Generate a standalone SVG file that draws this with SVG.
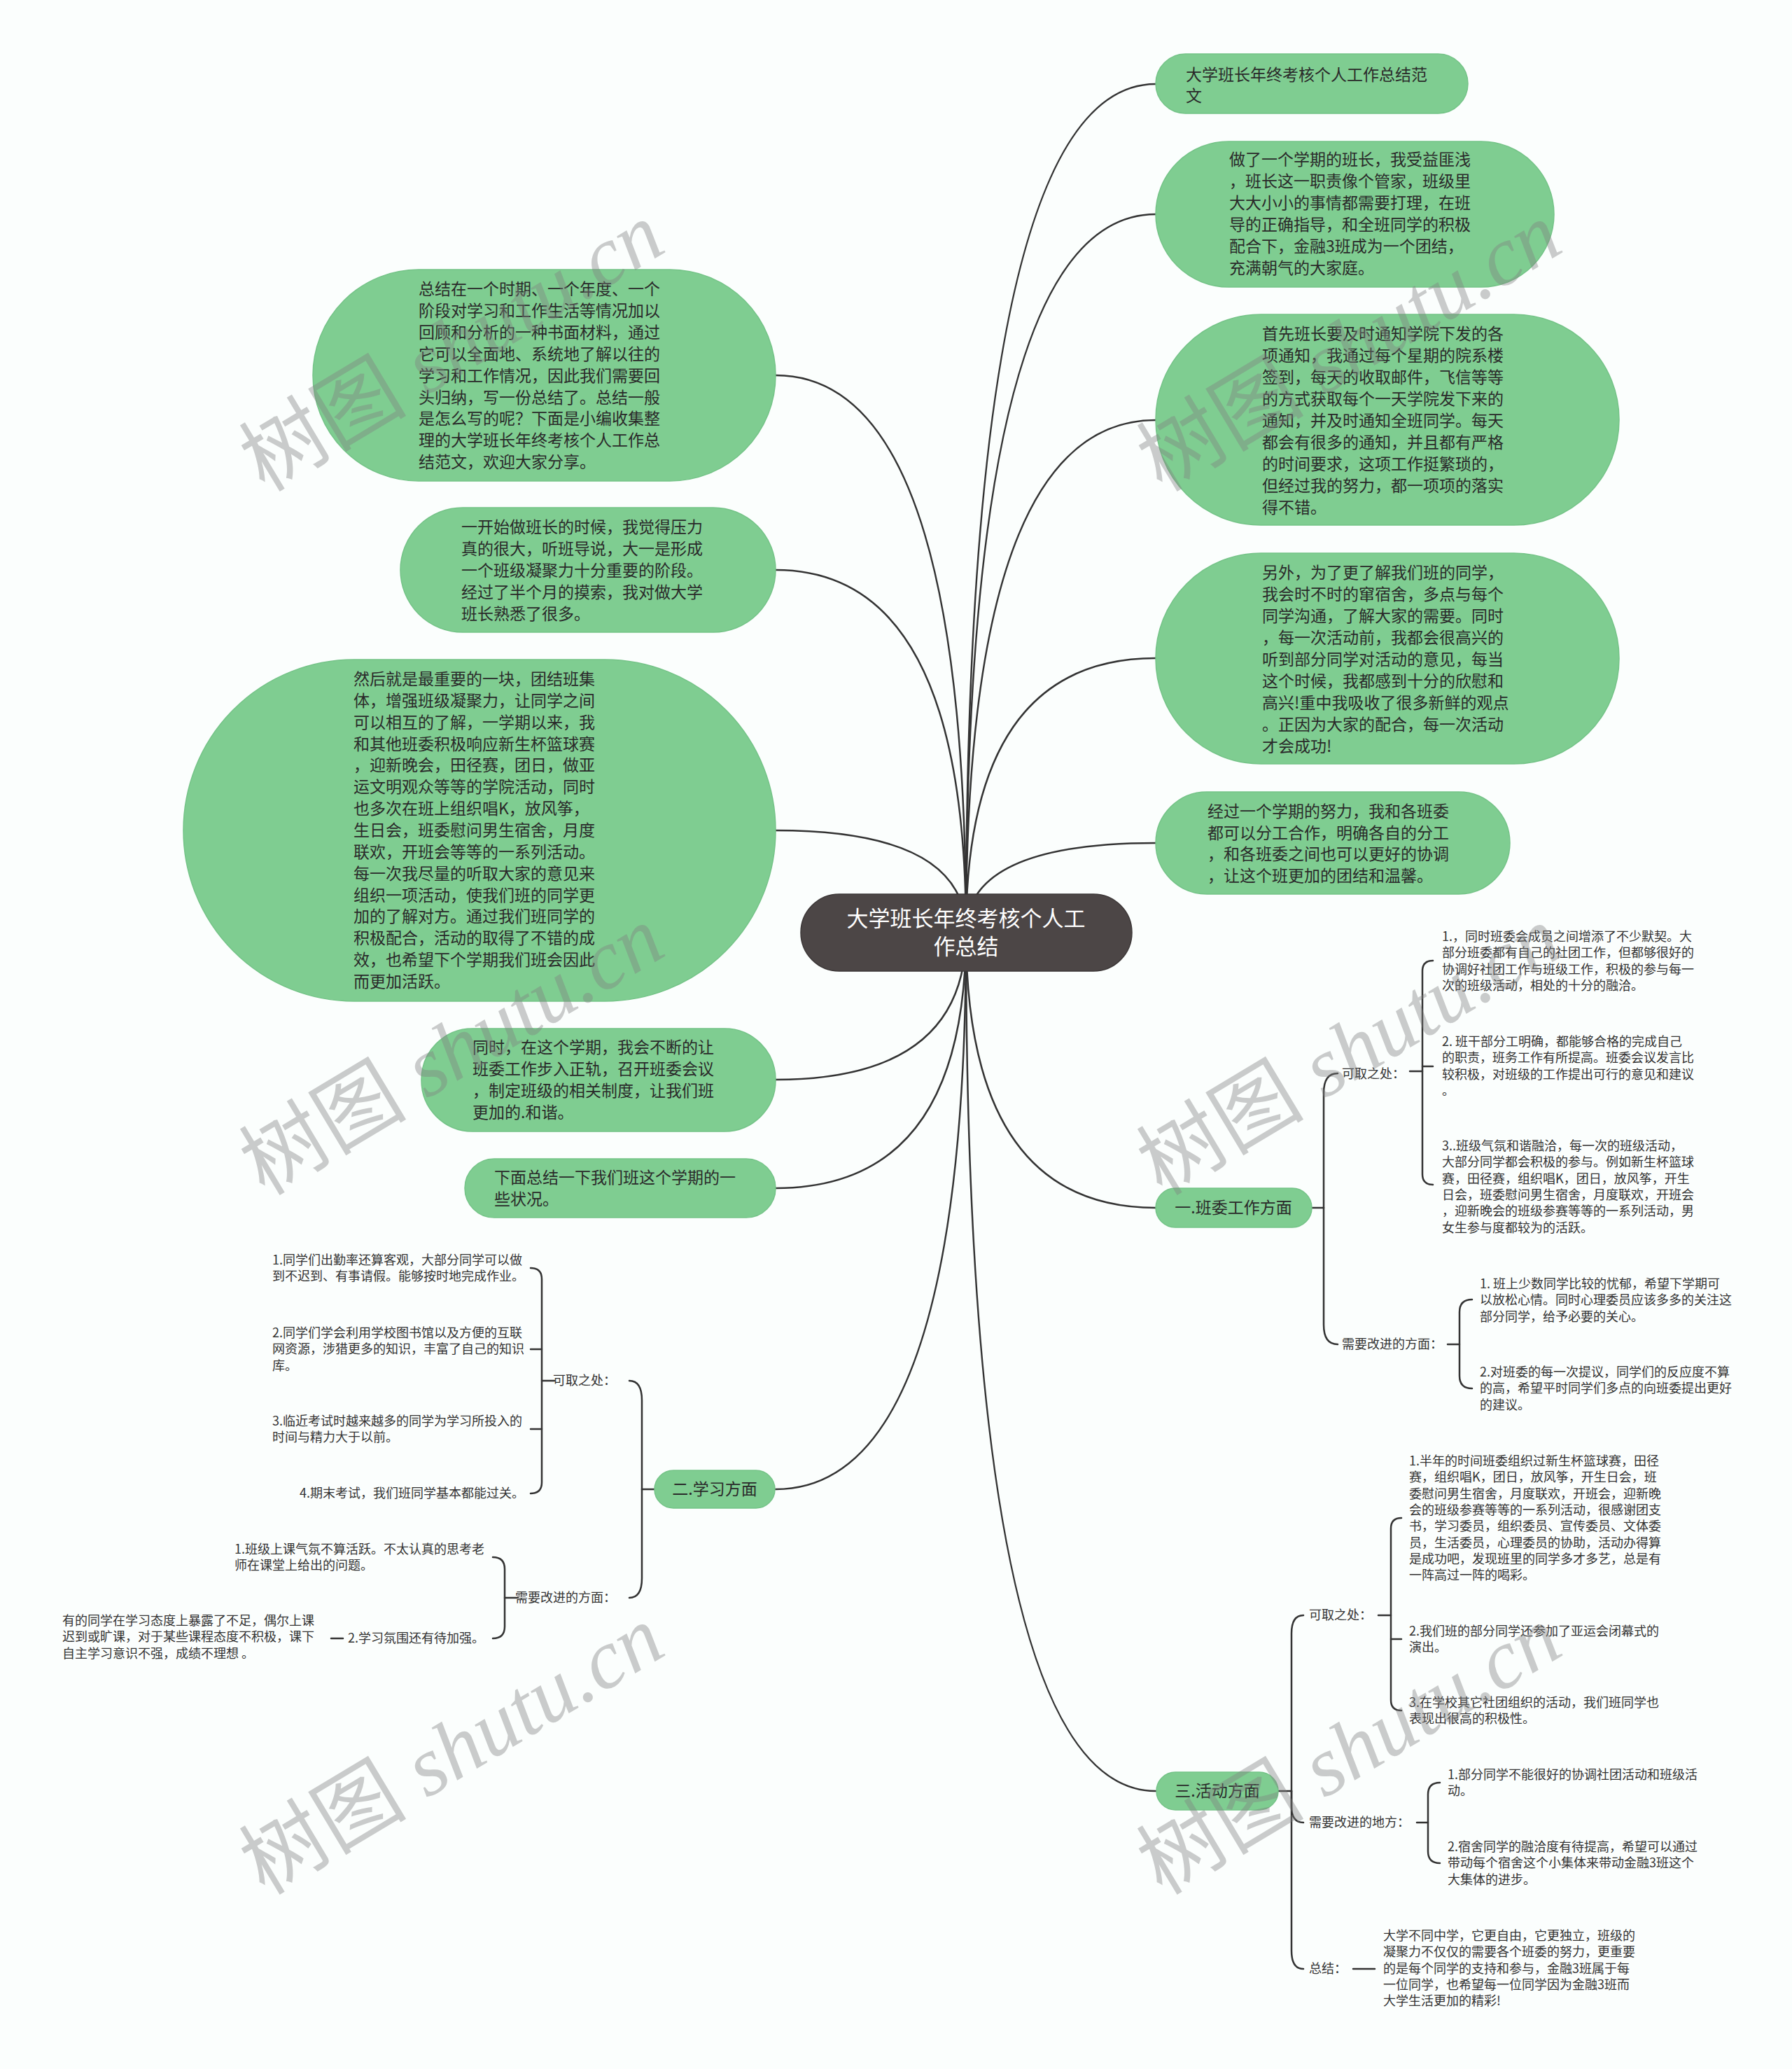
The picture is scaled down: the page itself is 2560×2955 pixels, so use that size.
<svg xmlns="http://www.w3.org/2000/svg" width="2560" height="2955" viewBox="0 0 2560 2955">
<defs>
<style>
.bg{fill:#fbfefd}
.gn{fill:#7fcd91;stroke:#74c387;stroke-width:1.5}
.cn{fill:#4c4646;stroke:#3d3838;stroke-width:1.5}
.nt{font-family:"Noto Sans CJK SC","Noto Sans",sans-serif;font-size:23px;fill:#2a2a2a}
.bt{font-family:"Noto Sans CJK SC","Noto Sans",sans-serif;font-size:23px;fill:#2a2a2a;text-anchor:middle}
.ct{font-family:"Noto Sans CJK SC","Noto Sans",sans-serif;font-size:31px;fill:#ffffff;text-anchor:middle}
.st{font-family:"Noto Sans CJK SC","Noto Sans",sans-serif;font-size:18px;fill:#333333}
.ln{fill:none;stroke:#333333;stroke-width:2.5;stroke-linecap:round}
.wm{font-size:120px;fill:#808080;fill-opacity:0.4}
</style>
</defs>
<rect class="bg" x="0" y="0" width="2560" height="2955"/>

<g id="connectors">
<path class="ln" d="M1380 1331 Q1380 120 1651 120"/>
<path class="ln" d="M1380 1331 Q1380 306 1651 306"/>
<path class="ln" d="M1380 1331 Q1380 600 1651 600"/>
<path class="ln" d="M1380 1331 Q1380 940 1651 940"/>
<path class="ln" d="M1380 1331 Q1380 1204 1651 1204"/>
<path class="ln" d="M1380 1331 Q1380 536 1108 536"/>
<path class="ln" d="M1380 1331 Q1380 814 1108 814"/>
<path class="ln" d="M1380 1331 Q1380 1186 1108 1186"/>
<path class="ln" d="M1380 1331 Q1380 1542 1108 1542"/>
<path class="ln" d="M1380 1331 Q1380 1697 1108 1697"/>
<path class="ln" d="M1380 1331 Q1380 1725 1651 1725"/>
<path class="ln" d="M1380 1331 Q1380 2127 1108 2127"/>
<path class="ln" d="M1380 1331 Q1380 2558 1651 2558"/>
<!-- branch 1 -->
<path class="ln" d="M1874 1725 H1891"/>
<path class="ln" d="M1891 1725 V1561 Q1891 1533 1911 1533"/>
<path class="ln" d="M1891 1725 V1892 Q1891 1920 1911 1920"/>
<path class="ln" d="M2014 1530 H2032"/>
<path class="ln" d="M2047 1372 Q2032 1372 2032 1387 V1677 Q2032 1692 2047 1692"/>
<path class="ln" d="M2032 1523 H2047"/>
<path class="ln" d="M2068 1920 H2085"/>
<path class="ln" d="M2103 1856 Q2085 1856 2085 1874 V1965 Q2085 1983 2103 1983"/>
<!-- branch 2 -->
<path class="ln" d="M935 2127 H917"/>
<path class="ln" d="M917 2127 V2000 Q917 1972 899 1972"/>
<path class="ln" d="M917 2127 V2254 Q917 2282 899 2282"/>
<path class="ln" d="M792 1972 H774"/>
<path class="ln" d="M758 1811 Q774 1811 774 1827 V2117 Q774 2133 758 2133"/>
<path class="ln" d="M774 1927 H758"/>
<path class="ln" d="M774 2041 H758"/>
<path class="ln" d="M740 2282 H721"/>
<path class="ln" d="M704 2224 Q721 2224 721 2241 V2323 Q721 2340 704 2340"/>
<path class="ln" d="M490 2340 H473"/>
<!-- branch 3 -->
<path class="ln" d="M1826 2558 H1845"/>
<path class="ln" d="M1845 2558 V2333 Q1845 2307 1862 2307"/>
<path class="ln" d="M1845 2558 V2580 Q1845 2603 1862 2603"/>
<path class="ln" d="M1845 2558 V2786 Q1845 2812 1862 2812"/>
<path class="ln" d="M1969 2307 H1987"/>
<path class="ln" d="M2002 2168 Q1987 2168 1987 2183 V2428 Q1987 2443 2002 2443"/>
<path class="ln" d="M1987 2341 H2002"/>
<path class="ln" d="M2024 2603 H2040"/>
<path class="ln" d="M2057 2546 Q2040 2546 2040 2563 V2644 Q2040 2661 2057 2661"/>
<path class="ln" d="M1933 2812 H1964"/>
</g>

<g id="center">
<rect class="cn" x="1144" y="1277" width="473" height="110" rx="55"/>
<text class="ct"><tspan x="1380" y="1323">大学班长年终考核个人工</tspan><tspan x="1380" y="1363">作总结</tspan></text>
</g>

<g id="r1">
<rect class="gn" x="1651" y="77" width="446" height="85" rx="42.5"/>
<text class="nt"><tspan x="1694" y="115">大学班长年终考核个人工作总结范</tspan><tspan x="1694" y="145">文</tspan></text>
</g>
<g id="r2">
<rect class="gn" x="1651" y="202" width="569" height="208" rx="104"/>
<text class="nt" x="1756" y="236"><tspan x="1756" dy="0">做了一个学期的班长，我受益匪浅</tspan><tspan x="1756" dy="31">，班长这一职责像个管家，班级里</tspan><tspan x="1756" dy="31">大大小小的事情都需要打理，在班</tspan><tspan x="1756" dy="31">导的正确指导，和全班同学的积极</tspan><tspan x="1756" dy="31">配合下，金融3班成为一个团结，</tspan><tspan x="1756" dy="31">充满朝气的大家庭。</tspan></text>
</g>
<g id="r3">
<rect class="gn" x="1651" y="449" width="662" height="301" rx="150"/>
<text class="nt" x="1803" y="485"><tspan x="1803" dy="0">首先班长要及时通知学院下发的各</tspan><tspan x="1803" dy="31">项通知，我通过每个星期的院系楼</tspan><tspan x="1803" dy="31">签到，每天的收取邮件，飞信等等</tspan><tspan x="1803" dy="31">的方式获取每个一天学院发下来的</tspan><tspan x="1803" dy="31">通知，并及时通知全班同学。每天</tspan><tspan x="1803" dy="31">都会有很多的通知，并且都有严格</tspan><tspan x="1803" dy="31">的时间要求，这项工作挺繁琐的，</tspan><tspan x="1803" dy="31">但经过我的努力，都一项项的落实</tspan><tspan x="1803" dy="31">得不错。</tspan></text>
</g>
<g id="r4">
<rect class="gn" x="1651" y="790" width="662" height="301" rx="150"/>
<text class="nt" x="1803" y="826"><tspan x="1803" dy="0">另外，为了更了解我们班的同学，</tspan><tspan x="1803" dy="31">我会时不时的窜宿舍，多点与每个</tspan><tspan x="1803" dy="31">同学沟通，了解大家的需要。同时</tspan><tspan x="1803" dy="31">，每一次活动前，我都会很高兴的</tspan><tspan x="1803" dy="31">听到部分同学对活动的意见，每当</tspan><tspan x="1803" dy="31">这个时候，我都感到十分的欣慰和</tspan><tspan x="1803" dy="31">高兴!重中我吸收了很多新鲜的观点</tspan><tspan x="1803" dy="31">。正因为大家的配合，每一次活动</tspan><tspan x="1803" dy="31">才会成功!</tspan></text>
</g>
<g id="r5">
<rect class="gn" x="1651" y="1131" width="506" height="146" rx="73"/>
<text class="nt" x="1725" y="1167"><tspan x="1725" dy="0">经过一个学期的努力，我和各班委</tspan><tspan x="1725" dy="30.7">都可以分工合作，明确各自的分工</tspan><tspan x="1725" dy="30.7">，和各班委之间也可以更好的协调</tspan><tspan x="1725" dy="30.7">，让这个班更加的团结和温馨。</tspan></text>
</g>

<g id="l1">
<rect class="gn" x="447" y="385" width="661" height="302" rx="151"/>
<text class="nt" x="598" y="421"><tspan x="598" dy="0">总结在一个时期、一个年度、一个</tspan><tspan x="598" dy="30.9">阶段对学习和工作生活等情况加以</tspan><tspan x="598" dy="30.9">回顾和分析的一种书面材料，通过</tspan><tspan x="598" dy="30.9">它可以全面地、系统地了解以往的</tspan><tspan x="598" dy="30.9">学习和工作情况，因此我们需要回</tspan><tspan x="598" dy="30.9">头归纳，写一份总结了。总结一般</tspan><tspan x="598" dy="30.9">是怎么写的呢？下面是小编收集整</tspan><tspan x="598" dy="30.9">理的大学班长年终考核个人工作总</tspan><tspan x="598" dy="30.9">结范文，欢迎大家分享。</tspan></text>
</g>
<g id="l2">
<rect class="gn" x="572" y="725" width="536" height="178" rx="89"/>
<text class="nt" x="659" y="761"><tspan x="659" dy="0">一开始做班长的时候，我觉得压力</tspan><tspan x="659" dy="31">真的很大，听班导说，大一是形成</tspan><tspan x="659" dy="31">一个班级凝聚力十分重要的阶段。</tspan><tspan x="659" dy="31">经过了半个月的摸索，我对做大学</tspan><tspan x="659" dy="31">班长熟悉了很多。</tspan></text>
</g>
<g id="l3">
<rect class="gn" x="262" y="942" width="846" height="488" rx="244"/>
<text class="nt" x="505" y="978"><tspan x="505" dy="0">然后就是最重要的一块，团结班集</tspan><tspan x="505" dy="30.86">体，增强班级凝聚力，让同学之间</tspan><tspan x="505" dy="30.86">可以相互的了解，一学期以来，我</tspan><tspan x="505" dy="30.86">和其他班委积极响应新生杯篮球赛</tspan><tspan x="505" dy="30.86">，迎新晚会，田径赛，团日，做亚</tspan><tspan x="505" dy="30.86">运文明观众等等的学院活动，同时</tspan><tspan x="505" dy="30.86">也多次在班上组织唱K，放风筝，</tspan><tspan x="505" dy="30.86">生日会，班委慰问男生宿舍，月度</tspan><tspan x="505" dy="30.86">联欢，开班会等等的一系列活动。</tspan><tspan x="505" dy="30.86">每一次我尽量的听取大家的意见来</tspan><tspan x="505" dy="30.86">组织一项活动，使我们班的同学更</tspan><tspan x="505" dy="30.86">加的了解对方。通过我们班同学的</tspan><tspan x="505" dy="30.86">积极配合，活动的取得了不错的成</tspan><tspan x="505" dy="30.86">效，也希望下个学期我们班会因此</tspan><tspan x="505" dy="30.86">而更加活跃。</tspan></text>
</g>
<g id="l4">
<rect class="gn" x="602" y="1469" width="506" height="147" rx="73"/>
<text class="nt" x="675" y="1504"><tspan x="675" dy="0">同时，在这个学期，我会不断的让</tspan><tspan x="675" dy="31">班委工作步入正轨，召开班委会议</tspan><tspan x="675" dy="31">，制定班级的相关制度，让我们班</tspan><tspan x="675" dy="31">更加的.和谐。</tspan></text>
</g>
<g id="l5">
<rect class="gn" x="664" y="1655" width="444" height="84" rx="42"/>
<text class="nt" x="706" y="1690"><tspan x="706" dy="0">下面总结一下我们班这个学期的一</tspan><tspan x="706" dy="31">些状况。</tspan></text>
</g>

<g id="b1">
<rect class="gn" x="1651" y="1697" width="223" height="56" rx="28"/>
<text class="bt" x="1762" y="1733">一.班委工作方面</text>
</g>
<g id="b1-keep">
<text class="st" x="1917" y="1540">可取之处：</text>
</g>
<g id="b1-keep-1">
<text class="st" x="2060" y="1344"><tspan x="2060" dy="0">1.，同时班委会成员之间增添了不少默契。大</tspan><tspan x="2060" dy="23.3">部分班委都有自己的社团工作，但都够很好的</tspan><tspan x="2060" dy="23.3">协调好社团工作与班级工作，积极的参与每一</tspan><tspan x="2060" dy="23.3">次的班级活动，相处的十分的融洽。</tspan></text>
</g>
<g id="b1-keep-2">
<text class="st" x="2060" y="1494"><tspan x="2060" dy="0">2. 班干部分工明确，都能够合格的完成自己</tspan><tspan x="2060" dy="23.3">的职责，班务工作有所提高。班委会议发言比</tspan><tspan x="2060" dy="23.3">较积极，对班级的工作提出可行的意见和建议</tspan><tspan x="2060" dy="23.3">。</tspan></text>
</g>
<g id="b1-keep-3">
<text class="st" x="2060" y="1643"><tspan x="2060" dy="0">3..班级气氛和谐融洽，每一次的班级活动，</tspan><tspan x="2060" dy="23.3">大部分同学都会积极的参与。例如新生杯篮球</tspan><tspan x="2060" dy="23.3">赛，田径赛，组织唱K，团日，放风筝，开生</tspan><tspan x="2060" dy="23.3">日会，班委慰问男生宿舍，月度联欢，开班会</tspan><tspan x="2060" dy="23.3">，迎新晚会的班级参赛等等的一系列活动，男</tspan><tspan x="2060" dy="23.3">女生参与度都较为的活跃。</tspan></text>
</g>
<g id="b1-improve">
<text class="st" x="1917" y="1926">需要改进的方面：</text>
</g>
<g id="b1-improve-1">
<text class="st" x="2114" y="1840"><tspan x="2114" dy="0">1. 班上少数同学比较的忧郁，希望下学期可</tspan><tspan x="2114" dy="23.3">以放松心情。同时心理委员应该多多的关注这</tspan><tspan x="2114" dy="23.3">部分同学，给予必要的关心。</tspan></text>
</g>
<g id="b1-improve-2">
<text class="st" x="2114" y="1966"><tspan x="2114" dy="0">2.对班委的每一次提议，同学们的反应度不算</tspan><tspan x="2114" dy="23.3">的高，希望平时同学们多点的向班委提出更好</tspan><tspan x="2114" dy="23.3">的建议。</tspan></text>
</g>

<g id="b2">
<rect class="gn" x="935" y="2100" width="172" height="54" rx="27"/>
<text class="bt" x="1021" y="2135">二.学习方面</text>
</g>
<g id="b2-keep">
<text class="st" x="880" y="1978" text-anchor="end">可取之处：</text>
</g>
<g id="b2-keep-1">
<text class="st" x="389" y="1806"><tspan x="389" dy="0">1.同学们出勤率还算客观，大部分同学可以做</tspan><tspan x="389" dy="23.3">到不迟到、有事请假。能够按时地完成作业。</tspan></text>
</g>
<g id="b2-keep-2">
<text class="st" x="389" y="1910"><tspan x="389" dy="0">2.同学们学会利用学校图书馆以及方便的互联</tspan><tspan x="389" dy="23.3">网资源，涉猎更多的知识，丰富了自己的知识</tspan><tspan x="389" dy="23.3">库。</tspan></text>
</g>
<g id="b2-keep-3">
<text class="st" x="389" y="2036"><tspan x="389" dy="0">3.临近考试时越来越多的同学为学习所投入的</tspan><tspan x="389" dy="23.3">时间与精力大于以前。</tspan></text>
</g>
<g id="b2-keep-4">
<text class="st" x="428" y="2139">4.期末考试，我们班同学基本都能过关。</text>
</g>
<g id="b2-improve">
<text class="st" x="880" y="2288" text-anchor="end">需要改进的方面：</text>
</g>
<g id="b2-improve-1">
<text class="st" x="335" y="2219"><tspan x="335" dy="0">1.班级上课气氛不算活跃。不太认真的思考老</tspan><tspan x="335" dy="23.3">师在课堂上给出的问题。</tspan></text>
</g>
<g id="b2-improve-2">
<text class="st" x="497" y="2346">2.学习氛围还有待加强。</text>
</g>
<g id="b2-improve-2-1">
<text class="st" x="89" y="2321"><tspan x="89" dy="0">有的同学在学习态度上暴露了不足，偶尔上课</tspan><tspan x="89" dy="23.3">迟到或旷课，对于某些课程态度不积极，课下</tspan><tspan x="89" dy="23.3">自主学习意识不强，成绩不理想 。</tspan></text>
</g>

<g id="b3">
<rect class="gn" x="1652" y="2531" width="174" height="54" rx="27"/>
<text class="bt" x="1739" y="2566">三.活动方面</text>
</g>
<g id="b3-keep">
<text class="st" x="1870" y="2313">可取之处：</text>
</g>
<g id="b3-keep-1">
<text class="st" x="2013" y="2093"><tspan x="2013" dy="0">1.半年的时间班委组织过新生杯篮球赛，田径</tspan><tspan x="2013" dy="23.3">赛，组织唱K，团日，放风筝，开生日会，班</tspan><tspan x="2013" dy="23.3">委慰问男生宿舍，月度联欢，开班会，迎新晚</tspan><tspan x="2013" dy="23.3">会的班级参赛等等的一系列活动，很感谢团支</tspan><tspan x="2013" dy="23.3">书，学习委员，组织委员、宣传委员、文体委</tspan><tspan x="2013" dy="23.3">员，生活委员，心理委员的协助，活动办得算</tspan><tspan x="2013" dy="23.3">是成功吧，发现班里的同学多才多艺，总是有</tspan><tspan x="2013" dy="23.3">一阵高过一阵的喝彩。</tspan></text>
</g>
<g id="b3-keep-2">
<text class="st" x="2013" y="2336"><tspan x="2013" dy="0">2.我们班的部分同学还参加了亚运会闭幕式的</tspan><tspan x="2013" dy="23.3">演出。</tspan></text>
</g>
<g id="b3-keep-3">
<text class="st" x="2013" y="2438"><tspan x="2013" dy="0">3.在学校其它社团组织的活动，我们班同学也</tspan><tspan x="2013" dy="23.3">表现出很高的积极性。</tspan></text>
</g>
<g id="b3-improve">
<text class="st" x="1870" y="2609">需要改进的地方：</text>
</g>
<g id="b3-improve-1">
<text class="st" x="2068" y="2541"><tspan x="2068" dy="0">1.部分同学不能很好的协调社团活动和班级活</tspan><tspan x="2068" dy="23.3">动。</tspan></text>
</g>
<g id="b3-improve-2">
<text class="st" x="2068" y="2644"><tspan x="2068" dy="0">2.宿舍同学的融洽度有待提高，希望可以通过</tspan><tspan x="2068" dy="23.3">带动每个宿舍这个小集体来带动金融3班这个</tspan><tspan x="2068" dy="23.3">大集体的进步。</tspan></text>
</g>
<g id="b3-summary">
<text class="st" x="1870" y="2818">总结：</text>
</g>
<g id="b3-summary-1">
<text class="st" x="1976" y="2771"><tspan x="1976" dy="0">大学不同中学，它更自由，它更独立，班级的</tspan><tspan x="1976" dy="23.3">凝聚力不仅仅的需要各个班委的努力，更重要</tspan><tspan x="1976" dy="23.3">的是每个同学的支持和参与，金融3班属于每</tspan><tspan x="1976" dy="23.3">一位同学，也希望每一位同学因为金融3班而</tspan><tspan x="1976" dy="23.3">大学生活更加的精彩!</tspan></text>
</g>

<g id="watermarks">
<text class="wm" transform="translate(378 704) rotate(-31)"><tspan font-family="Noto Sans CJK SC, sans-serif">树图</tspan><tspan font-family="Liberation Serif, serif" font-style="italic"> shutu.cn</tspan></text>
<text class="wm" transform="translate(1660 704) rotate(-31)"><tspan font-family="Noto Sans CJK SC, sans-serif">树图</tspan><tspan font-family="Liberation Serif, serif" font-style="italic"> shutu.cn</tspan></text>
<text class="wm" transform="translate(378 1709) rotate(-31)"><tspan font-family="Noto Sans CJK SC, sans-serif">树图</tspan><tspan font-family="Liberation Serif, serif" font-style="italic"> shutu.cn</tspan></text>
<text class="wm" transform="translate(1660 1709) rotate(-31)"><tspan font-family="Noto Sans CJK SC, sans-serif">树图</tspan><tspan font-family="Liberation Serif, serif" font-style="italic"> shutu.cn</tspan></text>
<text class="wm" transform="translate(378 2708) rotate(-31)"><tspan font-family="Noto Sans CJK SC, sans-serif">树图</tspan><tspan font-family="Liberation Serif, serif" font-style="italic"> shutu.cn</tspan></text>
<text class="wm" transform="translate(1660 2708) rotate(-31)"><tspan font-family="Noto Sans CJK SC, sans-serif">树图</tspan><tspan font-family="Liberation Serif, serif" font-style="italic"> shutu.cn</tspan></text>
</g>
</svg>
